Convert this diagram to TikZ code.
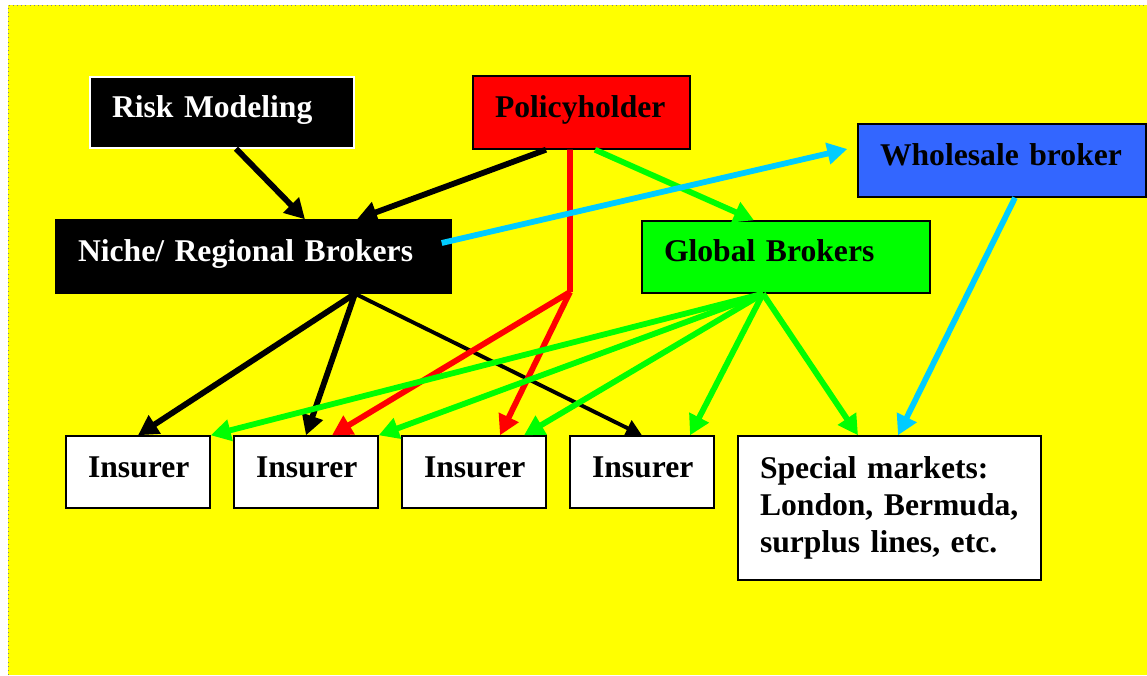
\documentclass[tikz,border=0pt]{standalone}
\usepackage{fontspec}
\setmainfont{Liberation Serif}
\usetikzlibrary{arrows.meta}

\definecolor{bgyellow}{RGB}{255,255,0}
\definecolor{phred}{RGB}{255,0,0}
\definecolor{gbgreen}{RGB}{0,255,0}
\definecolor{wbblue}{RGB}{51,102,255}
\definecolor{wbcyan}{RGB}{0,204,255}

\begin{document}
\begin{tikzpicture}[
		box/.style={rectangle, draw=black, line width=0.8pt, inner xsep=0.44cm, align=left, font=\fontsize{18}{21}\selectfont\bfseries},
		oneline/.style={text height=0.44cm, text depth=0.24cm},
		wire/.style={line width=3.3pt, -{Triangle[length=0.4cm,width=0.42cm]}},
		thinwire/.style={line width=2.2pt, -{Triangle[length=0.32cm,width=0.34cm]}}
	]
			\useasboundingbox (0,0) rectangle (22.94,13.5);
			\path[fill=bgyellow] (0.16,0) rectangle (22.94,13.4);
			\draw[gray, dotted, line width=0.4pt] (0.16,0) -- (0.16,13.4) -- (22.94,13.4);

			\node[box, oneline, fill=black, draw=white, text=white, text width=4.4cm, minimum height=1.42cm] (risk) at (4.44,11.25) {Risk Modeling};
			\node[box, oneline, fill=phred, text width=3.46cm, minimum height=1.46cm] (policy) at (11.63,11.25) {Policyholder};
			\node[box, oneline, fill=wbblue, text width=4.88cm, minimum height=1.46cm] (wholesale) at (20.04,10.29) {Wholesale broker};
			\node[box, oneline, fill=black, text=white, text width=7.02cm, minimum height=1.46cm] (niche) at (5.07,8.37) {Niche/ Regional Brokers};
			\node[box, oneline, fill=gbgreen, text width=4.88cm, minimum height=1.44cm] (global) at (15.72,8.36) {Global Brokers};

			\node[box, oneline, fill=white, text width=2cm, minimum height=1.44cm] (ins1) at (2.76,4.06) {Insurer};
			\node[box, oneline, fill=white, text width=2cm, minimum height=1.44cm] (ins2) at (6.12,4.06) {Insurer};
			\node[box, oneline, fill=white, text width=2cm, minimum height=1.44cm] (ins3) at (9.48,4.06) {Insurer};
			\node[box, oneline, fill=white, text width=2cm, minimum height=1.44cm] (ins4) at (12.84,4.06) {Insurer};
			\node[box, fill=white, text width=5.18cm, minimum height=2.88cm] (special) at (17.79,3.34) {Special markets:\\ London,~Bermuda,\\ surplus~lines,~etc.};

			% black links
			\draw[wire] ([xshift=0.28cm]risk.south) -- ([xshift=1.03cm]niche.north);
			\draw[wire] ([xshift=-0.71cm]policy.south) -- ([xshift=2.07cm]niche.north);
			\draw[wire] ([xshift=2.03cm]niche.south) -- (ins1.north);
			\draw[wire] ([xshift=2.03cm]niche.south) -- (ins2.north);
			\draw[thinwire] ([xshift=2.03cm]niche.south) -- (ins4.north);

			% red links
			\coordinate (fork) at (11.40,7.66);
			\draw[phred, line width=3.4pt] ([xshift=-0.23cm]policy.south) -- (fork);
			\draw[wire, phred] (fork) -- ([xshift=0.52cm]ins2.north);
			\draw[wire, phred] (fork) -- ([xshift=0.52cm]ins3.north);

			% green links
			\draw[wire, gbgreen] ([xshift=0.27cm]policy.south) -- ([xshift=-0.64cm]global.north);
			\draw[wire, gbgreen] ([xshift=-0.46cm]global.south) -- (ins1.north east);
			\draw[wire, gbgreen] ([xshift=-0.46cm]global.south) -- (ins2.north east);
			\draw[wire, gbgreen] ([xshift=-0.46cm]global.south) -- ([xshift=1cm]ins3.north);
			\draw[wire, gbgreen] ([xshift=-0.46cm]global.south) -- ([xshift=0.96cm]ins4.north);
			\draw[wire, gbgreen] ([xshift=-0.46cm]global.south) -- ([xshift=-0.63cm]special.north);

			% cyan links
			\draw[wire, wbcyan] ([xshift=-0.2cm, yshift=0.27cm]niche.east) -- ([xshift=-0.2cm, yshift=0.23cm]wholesale.west);
			\draw[wire, wbcyan] ([xshift=0.26cm]wholesale.south) -- ([xshift=0.17cm]special.north);
		\end{tikzpicture}
\end{document}
